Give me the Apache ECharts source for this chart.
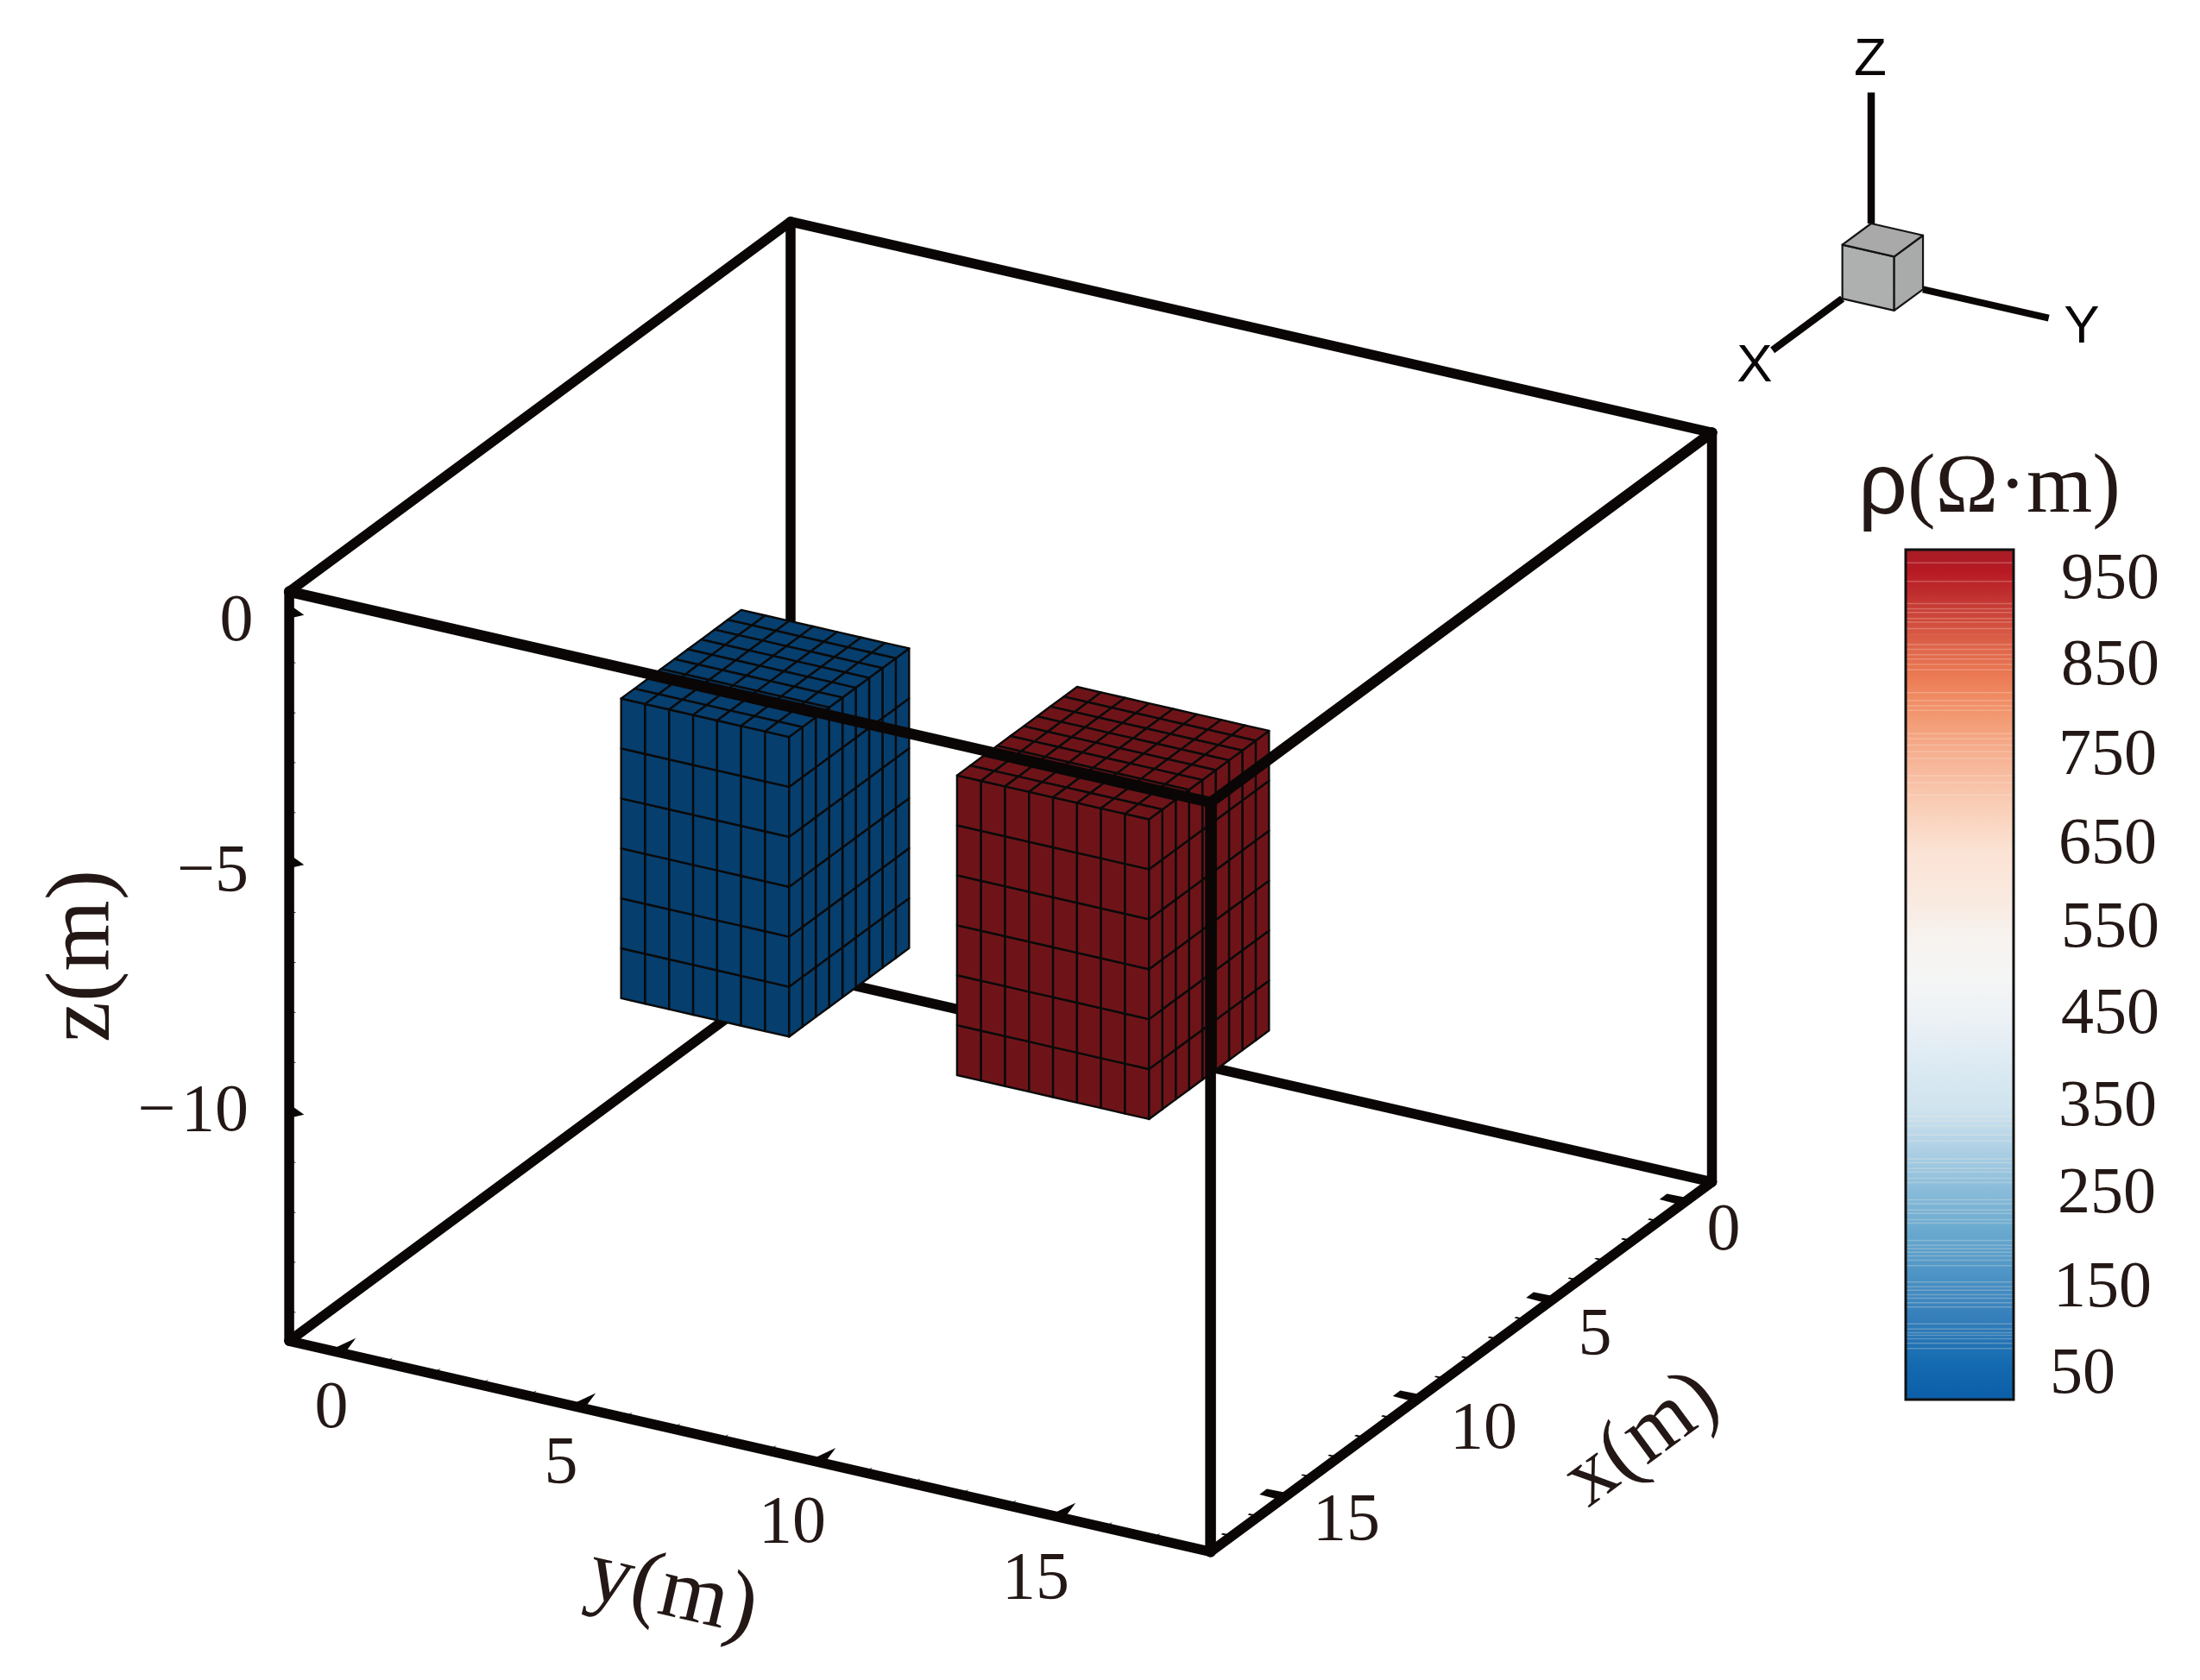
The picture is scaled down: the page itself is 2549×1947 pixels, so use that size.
<!DOCTYPE html>
<html>
<head>
<meta charset="utf-8">
<style>html,body{margin:0;padding:0;background:#fff}#c{width:2549px;height:1947px}</style>
<script src="https://cdn.jsdelivr.net/npm/echarts@6/dist/echarts.min.js"></script>
</head>
<body>
<div id="c"></div>
<script>
// ---------- data ----------
const xRange = [-1, 17.8];
const yRange = [-1, 18.2];
const zRange = [-14.6, 0.4];
const xTicks = [0,1,2,3,4,5,6,7,8,9,10,11,12,13,14,15,16,17];
const yTicks = [0,1,2,3,4,5,6,7,8,9,10,11,12,13,14,15,16,17,18];
const zTicks = [0,-1,-2,-3,-4,-5,-6,-7,-8,-9,-10,-11,-12,-13,-14];
const majorStep = 5;
const blockNames = ['low', 'high'];
const blockXFrom = [9.85, 9.85];
const blockYFrom = [4, 11];
const blockZFrom = [-8, -8];
const blockCellsX = [9, 9];
const blockCellsY = [7, 8];
const blockCellsZ = [6, 6];
const cellSize = [0.5, 0.5, 1];
const colorBarLabels = [950, 850, 750, 650, 550, 450, 350, 250, 150, 50];
const colorStopValues = [978,956,929.5,885,836,791,747,694,638,582,545,494,442,389,347,302,264,215,166,120,58,22];
const colorStopColors = ['#a71d26','#b81a24','#c0302f','#d85a45','#ec7c55','#f29a72','#f6b193','#f9cdb5','#fbe3d5','#f9eae0','#f7f2ee','#f5f6f6','#eaf0f5','#d9e9f2','#cfe3ee','#aed0e5','#8fbfdb','#6dacd1','#5096c6','#3a82bd','#146ab0','#0b5ea8'];
const colorStreakValues = [966,945,920,914,910,903,899,891.5,873.5,868,862,857,851,845,819,810,804,799,772.5,767,759.5,752,744.5,725,717,703,339,334,328,318,311,291,286.5,280,276,269,264,244.5,240,233,229,222,218,198.5,193,189,185,181,176,170,151.5,146,142,137,133,128,123,104,98,94,91,87,82,76];
const triadSide = 1.08;
const triadArm = 2.62;

// ---------- projection and layout ----------
const ORIGIN = [940.7, 315.6];
const EX = [-30.9, 22.8];
const EY = [55.6, 12.73];
const EZ = [0, -57.9];
const TRIAD_ORIGIN = [2168, 259];
const project = (p, o) => {
  o = o || ORIGIN;
  return [o[0] + p[0]*EX[0] + p[1]*EY[0] + p[2]*EZ[0], o[1] + p[0]*EX[1] + p[1]*EY[1] + p[2]*EZ[1]];
};
const W = 2549, H = 1947;
const BAR = {left: 2208, top: 637, width: 125, height: 985};
const BAR_MIN = 18.2, BAR_MAX = 981.0;
const BLACK = '#0a0606', INK = '#231815';
const SERIF = '"Liberation Serif"', SANS = '"Liberation Sans"';
const BLOCK_FILL = ['#063e6e', '#6e1418'];
const [xa, xb] = xRange, [ya, yb] = yRange, [za, zb] = zRange;
const backEdges = [
  [[xa,ya,zb],[xa,ya,za]], [[xa,ya,za],[xb,ya,za]], [[xa,ya,za],[xa,yb,za]],
  [[xa,ya,zb],[xa,yb,zb]], [[xa,ya,zb],[xb,ya,zb]], [[xa,yb,zb],[xa,yb,za]],
  [[xb,ya,za],[xb,yb,za]], [[xb,yb,za],[xa,yb,za]], [[xb,ya,zb],[xb,ya,za]]
];
const frontEdges = [
  [[xb,ya,zb],[xb,yb,zb]], [[xb,yb,zb],[xa,yb,zb]], [[xb,yb,zb],[xb,yb,za]]
];

// faces: 0 front (x max), 1 side (y max), 2 top (z max)
const faceItems = [];
blockNames.forEach((_, b) => {
  for (let i = 0; i < blockCellsY[b]; i++) for (let k = 0; k < blockCellsZ[b]; k++) faceItems.push([b,0,i,k]);
  for (let i = 0; i < blockCellsX[b]; i++) for (let k = 0; k < blockCellsZ[b]; k++) faceItems.push([b,1,i,k]);
  for (let i = 0; i < blockCellsX[b]; i++) for (let j = 0; j < blockCellsY[b]; j++) faceItems.push([b,2,i,j]);
});
function faceCorners(item) {
  const [b,f,i,j] = item, dx = cellSize[0], dy = cellSize[1], dz = cellSize[2];
  const x0 = blockXFrom[b], y0 = blockYFrom[b], z0 = blockZFrom[b];
  const xM = x0 + blockCellsX[b]*dx, yM = y0 + blockCellsY[b]*dy, zM = z0 + blockCellsZ[b]*dz;
  if (f === 0) { const y=y0+i*dy, z=z0+j*dz; return [[xM,y,z],[xM,y+dy,z],[xM,y+dy,z+dz],[xM,y,z+dz]]; }
  if (f === 1) { const x=x0+i*dx, z=z0+j*dz; return [[x,yM,z],[x+dx,yM,z],[x+dx,yM,z+dz],[x,yM,z+dz]]; }
  const x=x0+i*dx, y=y0+j*dy; return [[x,y,zM],[x+dx,y,zM],[x+dx,y+dy,zM],[x,y+dy,zM]];
}

// ticks: each is a tapered wedge from the axis inward
const tickItems = [];
xTicks.forEach(v => tickItems.push({axis:'x', v, major: v % majorStep === 0}));
yTicks.forEach(v => tickItems.push({axis:'y', v, major: v % majorStep === 0}));
zTicks.forEach(v => tickItems.push({axis:'z', v, major: v % majorStep === 0}));
function tickPoly(t) {
  if (t.axis === 'x') { const l = t.major ? 0.46 : 0.21, a = t.major ? 0.17 : 0.04, b = t.major ? 0.14 : 0.03;
    return [[t.v-a,yb,za],[t.v+a,yb,za],[t.v+b,yb-l,za],[t.v-b,yb-l,za]]; }
  if (t.axis === 'y') { const l = t.major ? 0.7 : 0.28, a = t.major ? 0.15 : 0.04;
    return [[xb,t.v-a,za],[xb,t.v+a,za],[xb-l,t.v,za]]; }
  const l = t.major ? 0.31 : 0.15, a = t.major ? 0.14 : 0.03;
  return [[xb,ya,t.v-a],[xb,ya,t.v+a],[xb,ya+l,t.v]];
}

// texts: [text, px, py, size, rotationDeg, family, colour, align]
const f0 = 78, fb = 76;
const textItems = [
  ['0',274,722,f0,0], ['\u22125',288,1012,f0,0,null,null,'right'], ['\u2212\u200A10',288,1290,f0,0,null,null,'right'],
  ['0',384,1634,f0,0], ['5',650,1698,f0,0], ['10',918,1767,f0,0], ['15',1200,1832,f0,0],
  ['0',1997,1428,f0,0], ['5',1848,1549,f0,0], ['10',1719,1658,f0,0], ['15',1560,1764,f0,0],
  ['z(m)',98,1108,106,90], ['y(m)',779,1846,102,-13], ['x(m)',1903,1669,100,36.4],
  ['Z',2167,70,62,0,SANS,BLACK], ['Y',2412,380,62,0,SANS,BLACK], ['X',2033,425,62,0,SANS,BLACK]
];
// colour bar labels sit slightly unevenly in the source
const barLabelLayout = [[2445,673],[2445,773.5],[2442,877],[2442,980],[2445,1077],[2445,1177],[2442,1284],[2441,1385],[2436,1494],[2413,1594]];
colorBarLabels.forEach((v,i) => textItems.push([String(v), barLabelLayout[i][0], barLabelLayout[i][1], fb, 0]));

const triadItems = [
  {kind:'arm', a:[0,0,0], b:[0,0,triadArm], w:8.5},
  {kind:'arm', a:[0,triadSide,-triadSide], b:[0,triadSide+triadArm,-triadSide], w:8},
  {kind:'arm', a:[triadSide,0,-triadSide], b:[triadSide+triadArm,0,-triadSide], w:8.5},
  {kind:'face', fill:'#aeb0af', pts:[[triadSide,0,0],[triadSide,triadSide,0],[triadSide,triadSide,-triadSide],[triadSide,0,-triadSide]]},
  {kind:'face', fill:'#a9abaa', pts:[[triadSide,triadSide,0],[0,triadSide,0],[0,triadSide,-triadSide],[triadSide,triadSide,-triadSide]]},
  {kind:'face', fill:'#a9a9a9', pts:[[0,0,0],[0,triadSide,0],[triadSide,triadSide,0],[triadSide,0,0]]}
];

const line3 = (api, e, w) => ({
  type:'polyline', shape:{points:e.map(p => api.coord(project(p)))},
  style:{stroke:BLACK, lineWidth:w, fill:null, lineCap:'round'}
});
const idx = arr => arr.map((_,i) => [i]);
const noAxis = {show:false};
const gradientBands = colorStopValues.slice(1).map((_,i) => [i]);

const option = {
  backgroundColor:'#ffffff',
  animation:false,
  grid:[
    {left:0, top:0, width:W, height:H, show:false},
    {left:BAR.left, top:BAR.top, width:BAR.width, height:BAR.height, show:true, borderColor:'#111111', borderWidth:3, z:5}
  ],
  xAxis:[
    {type:'value', gridIndex:0, min:0, max:W, ...noAxis},
    {type:'value', gridIndex:1, min:0, max:1, ...noAxis}
  ],
  yAxis:[
    {type:'value', gridIndex:0, min:0, max:H, inverse:true, ...noAxis},
    {type:'value', gridIndex:1, min:BAR_MIN, max:BAR_MAX, ...noAxis}
  ],
  series:[
    {name:'back frame', type:'custom', coordinateSystem:'cartesian2d', z:1, silent:true, data:idx(backEdges),
     renderItem:(p,api)=>line3(api, backEdges[api.value(0)], 11.5)},
    {name:'ticks', type:'custom', coordinateSystem:'cartesian2d', z:1, silent:true, data:idx(tickItems),
     renderItem:(p,api)=>({type:'polygon', shape:{points:tickPoly(tickItems[api.value(0)]).map(q=>api.coord(project(q)))}, style:{fill:BLACK}})},
    {name:'blocks', type:'custom', coordinateSystem:'cartesian2d', z:2, silent:true, data:idx(faceItems),
     renderItem:(p,api)=>{
       const it = faceItems[api.value(0)];
       return {type:'polygon', shape:{points:faceCorners(it).map(q=>api.coord(project(q)))},
               style:{fill:BLOCK_FILL[it[0]], stroke:'#0a0a0a', lineWidth:2.4, lineJoin:'round'}};
     }},
    {name:'front frame', type:'custom', coordinateSystem:'cartesian2d', z:3, silent:true, data:idx(frontEdges),
     renderItem:(p,api)=>line3(api, frontEdges[api.value(0)], 12.5)},
    {name:'orientation', type:'custom', coordinateSystem:'cartesian2d', z:3, silent:true, data:idx(triadItems),
     renderItem:(p,api)=>{
       const t = triadItems[api.value(0)];
       const toPx = q => api.coord(project(q, TRIAD_ORIGIN));
       if (t.kind === 'arm') return {type:'line', shape:{x1:toPx(t.a)[0],y1:toPx(t.a)[1],x2:toPx(t.b)[0],y2:toPx(t.b)[1]}, style:{stroke:BLACK, lineWidth:t.w}};
       return {type:'polygon', shape:{points:t.pts.map(toPx)}, style:{fill:t.fill, stroke:'#141414', lineWidth:2.2, lineJoin:'round'}};
     }},
    {name:'colour bar', type:'custom', coordinateSystem:'cartesian2d', xAxisIndex:1, yAxisIndex:1, z:2, silent:true, clip:true, data:gradientBands,
     renderItem:(p,api)=>{
       const i = api.value(0);
       const a = api.coord([0, i===0 ? BAR_MAX : colorStopValues[i]]);
       const b = api.coord([1, i===colorStopValues.length-2 ? BAR_MIN : colorStopValues[i+1]]);
       return {type:'rect', shape:{x:a[0], y:a[1], width:b[0]-a[0], height:b[1]-a[1]+0.6},
         style:{fill:new echarts.graphic.LinearGradient(0,0,0,1,[{offset:0,color:colorStopColors[i]},{offset:1,color:colorStopColors[i+1]}])}};
     }},
    {name:'colour bar streaks', type:'custom', coordinateSystem:'cartesian2d', xAxisIndex:1, yAxisIndex:1, z:3, silent:true, data:idx(colorStreakValues),
     renderItem:(p,api)=>{
       const v = colorStreakValues[api.value(0)];
       const a = api.coord([0,v]), b = api.coord([1,v]);
       return {type:'line', shape:{x1:a[0],y1:a[1],x2:b[0],y2:b[1]}, style:{stroke:'rgba(255,240,225,0.26)', lineWidth:1.5}};
     }},
    {name:'texts', type:'custom', coordinateSystem:'cartesian2d', z:6, silent:true, data:idx(textItems),
     renderItem:(p,api)=>{
       const t = textItems[api.value(0)];
       const c = api.coord([t[1],t[2]]);
       return {type:'text', x:c[0], y:c[1], rotation:(t[4]||0)*Math.PI/180,
         style:{text:t[0], x:0, y:0, fontFamily:t[5]||SERIF, fontSize:t[3], fill:t[6]||INK,
                align:t[7]||'center', textAlign:t[7]||'center', verticalAlign:'middle', textVerticalAlign:'middle'}};
     }},
    {name:'colour bar title', type:'custom', coordinateSystem:'cartesian2d', z:6, silent:true, data:[[0]],
     renderItem:(p,api)=>{
       const c = api.coord([2305,567]);
       return {type:'text', x:c[0], y:c[1],
         style:{text:'{a|\u03C1}{b|(\u03A9\u00B7m)}', x:0, y:0, align:'center', textAlign:'center', verticalAlign:'middle', textVerticalAlign:'middle',
           rich:{a:{fontFamily:SANS, fontSize:100, fill:INK, color:INK}, b:{fontFamily:SERIF, fontSize:98, fill:INK, color:INK}}}};
     }}
  ]
};
echarts.init(document.getElementById('c'), null, {renderer:'canvas', width:W, height:H}).setOption(option);
</script>
</body>
</html>
